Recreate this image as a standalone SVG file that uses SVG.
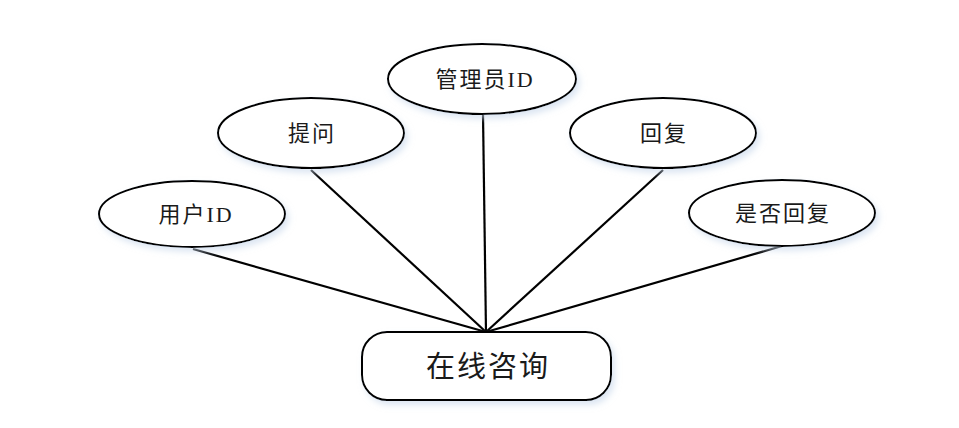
<svg xmlns="http://www.w3.org/2000/svg" width="959" height="428" viewBox="0 0 959 428">
<defs>
<filter id="sh" x="-20%" y="-30%" width="140%" height="160%">
<feGaussianBlur in="SourceAlpha" stdDeviation="3"/>
<feOffset dx="3" dy="4" result="b"/>
<feFlood flood-color="#c6d6ea" flood-opacity="0.6"/>
<feComposite in2="b" operator="in"/>
<feMerge><feMergeNode/><feMergeNode in="SourceGraphic"/></feMerge>
</filter>
</defs>
<style>
.n{fill:#fff;stroke:#000;stroke-width:2;filter:url(#sh)}
.t{font-family:"Liberation Serif","Noto Sans CJK SC",serif;font-size:22px;letter-spacing:2px;fill:#1a1a1a;text-anchor:middle;dominant-baseline:central}
.big{font-size:29px;letter-spacing:2px}
.c line{stroke:#000;stroke-width:2.2}
</style>
<rect width="959" height="428" fill="#fff"/>
<g class="c" id="connectors">
<line x1="193" y1="249" x2="486" y2="332"/>
<line x1="311" y1="170" x2="486" y2="332"/>
<line x1="483" y1="114" x2="486" y2="332"/>
<line x1="663" y1="170" x2="486" y2="332"/>
<line x1="782" y1="246" x2="486" y2="332"/>
</g>
<g id="user-id"><ellipse class="n" cx="192" cy="214" rx="93" ry="33"/><text class="t" x="196" y="214">用户ID</text></g>
<g id="question"><ellipse class="n" cx="311" cy="133" rx="93" ry="35"/><text class="t" x="312" y="133">提问</text></g>
<g id="admin-id"><ellipse class="n" cx="482" cy="79" rx="94" ry="35"/><text class="t" x="485" y="79">管理员ID</text></g>
<g id="reply"><ellipse class="n" cx="663" cy="133" rx="93" ry="35"/><text class="t" x="664" y="133">回复</text></g>
<g id="replied"><ellipse class="n" cx="782" cy="213" rx="93" ry="33"/><text class="t" x="783" y="213">是否回复</text></g>
<g id="consult"><rect class="n" x="362" y="332" width="249" height="68" rx="25"/><text class="t big" x="488" y="367">在线咨询</text></g>
</svg>
